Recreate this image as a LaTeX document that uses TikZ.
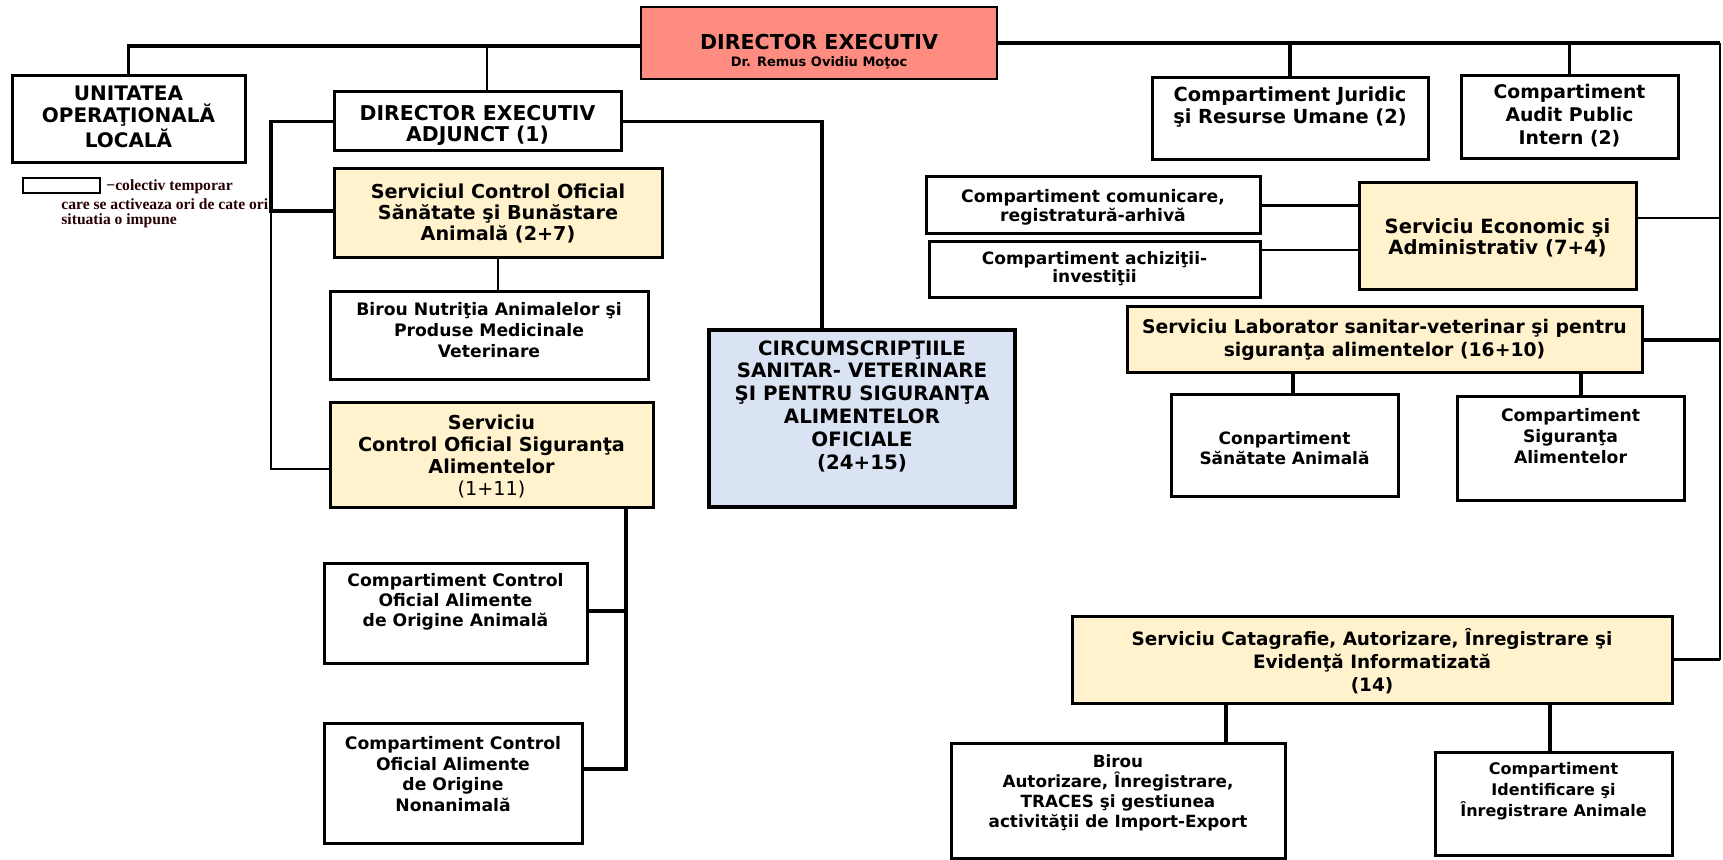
\documentclass[tikz,border=0pt]{standalone}
\usepackage{fontspec}
\setmainfont{DejaVu Sans}
\newfontfamily\legfont{Liberation Serif}
\usetikzlibrary{fit,calc}
\definecolor{salmon}{RGB}{255,140,128}
\definecolor{cream}{RGB}{255,242,204}
\definecolor{paleblue}{RGB}{218,227,243}
\begin{document}
\begin{tikzpicture}[x=0.5pt,y=-0.5pt,
  box/.style={draw=black,line width=1.5pt,inner sep=0pt,outer sep=0pt,fill=white},
  cbox/.style={box,fill=cream},
  legbox/.style={draw=black,line width=0.8pt,inner sep=0pt,outer sep=0pt,fill=white},
  txt/.style={align=center,inner sep=0pt},
  fs/.style 2 args={font=\fontsize{#1}{#2}\selectfont\bfseries},
  legtxt/.style={inner sep=0pt,anchor=west,text=black!85!red,font=\legfont\fontsize{7.8}{9}\selectfont\bfseries},
  thk/.style={line width=1.6pt},
  thn/.style={line width=0.8pt}]
\useasboundingbox (0,0) rectangle (1723,860);

% ---------- connectors (named reference points) ----------
\coordinate (rb) at (1720,0);
\coordinate (ltop) at (0,46);
\coordinate (lbus) at (271,211);
\coordinate (adjtop) at (487,92);
\coordinate (circtop) at (822,330);
\coordinate (sv) at (626,508);
\coordinate (cca-r) at (587,611);
\coordinate (cco-r) at (582,769);
\coordinate (sig-l) at (330,469);
\coordinate (eco-r) at (1636,218);
\coordinate (ach-r) at (1260,250);
\coordinate (csa-top) at (1293,395);
\coordinate (sal-top) at (1581,397);
\coordinate (bir-top) at (1226,743);
\coordinate (idf-top) at (1550,752);

% ---------- boxes ----------
\node[box,fill=salmon,line width=1.2pt,fit={(641,7) (997,79)}] (dir) {};
\node[box,fit={(12,76) (245,163)}] (uol) {};
\node[legbox,fit={(23,178) (100,193)}] (leg) {};
\node[box,fit={(334,92) (621,151)}] (adj) {};
\node[cbox,fit={(334,169) (662,258)}] (sco) {};
\node[box,fit={(330,292) (648,380)}] (bnut) {};
\node[cbox,fit={(330,403) (653,508)}] (sig) {};
\node[box,fill=paleblue,line width=1.8pt,fit={(709,330) (1015,507)}] (circ) {};
\node[box,fit={(324,563) (587,663)}] (cca) {};
\node[box,fit={(324,723) (582,843)}] (cco) {};
\node[box,fit={(1152,78) (1428,160)}] (jur) {};
\node[box,fit={(1461,76) (1678,159)}] (aud) {};
\node[box,fit={(926,177) (1260,234)}] (com) {};
\node[box,fit={(929,242) (1260,298)}] (ach) {};
\node[cbox,fit={(1359,183) (1636,290)}] (eco) {};
\node[cbox,fit={(1127,307) (1642,373)}] (lab) {};
\node[box,fit={(1171,395) (1398,497)}] (csa) {};
\node[box,fit={(1457,397) (1684,501)}] (sal) {};
\node[cbox,fit={(1072,616) (1672,703)}] (cat) {};
\node[box,fit={(951,743) (1285,858)}] (bir) {};
\node[box,fit={(1435,752) (1672,855)}] (idf) {};

% ---------- connectors ----------
\draw[thk] (dir.west |- ltop) -| (uol.north);
\draw[thn] (adjtop) -- (adjtop |- ltop);
\draw[thk] (adj.west) -| (lbus) -- (lbus -| sco.west);
\draw[thn] (lbus) |- (sig-l);
\draw[thk] (adj.east) -| (circtop);
\draw[thn] (sco.south) -- (sco.south |- bnut.north);
\draw[thk] (sv) |- (cca-r);
\draw[thk] (sv) |- (cco-r);
\draw[thk] (dir.east) -- (dir.east -| rb);
\draw[thn] (dir.east -| rb) -- (cat.east -| rb);
\draw[thk] (cat.east) -- (cat.east -| rb);
\draw[thn] (eco-r) -- (eco-r -| rb);
\draw[thk] (lab.east) -- (lab.east -| rb);
\draw[thk] (jur.north) -- (jur.north |- dir.east);
\draw[thk] (aud.north) -- (aud.north |- dir.east);
\draw[thk] (com.east) -- (com.east -| eco.west);
\draw[thn] (ach-r) -- (ach-r -| eco.west);
\draw[thk] (csa-top) -- (csa-top |- lab.south);
\draw[thk] (sal-top) -- (sal-top |- lab.south);
\draw[thk] (bir-top) -- (bir-top |- cat.south);
\draw[thk] (idf-top) -- (idf-top |- cat.south);

% ---------- texts ----------
\node[txt,fs={10.3}{12}] (dir-t1) at (819,42) {DIRECTOR EXECUTIV};
\node[txt,fs={6.5}{8}] (dir-t2) at (819,63) {Dr. Remus Ovidiu Moţoc};
\node[txt,fs={10}{11}] (uol-t) at (128.5,117) {UNITATEA\\OPERAŢIONALĂ\\LOCALĂ};
\node[legtxt] (leg-t1) at (106,187) {−colectiv temporar};
\node[legtxt] (leg-t2) at (61,204) {care se activeaza ori de cate ori};
\node[legtxt] (leg-t3) at (61,221) {situatia o impune};
\node[txt,fs={10.2}{10.5}] (adj-t) at (477.5,125) {DIRECTOR EXECUTIV\\ADJUNCT (1)};
\node[txt,fs={9.6}{10.5}] (sco-t) at (498,213) {Serviciul Control Oficial\\Sănătate şi Bunăstare\\Animală (2+7)};
\node[txt,fs={8.6}{10.5}] (bnut-t) at (489,330) {Birou Nutriţia Animalelor şi\\Produse Medicinale\\Veterinare};
\node[txt,fs={9.6}{11}] (sig-t) at (491.5,456) {Serviciu\\Control Oficial Siguranţa\\Alimentelor\\{\mdseries (1+11)}};
\node[txt,fs={9.9}{11.4}] (circ-t) at (862,406) {CIRCUMSCRIPŢIILE\\SANITAR- VETERINARE\\ŞI PENTRU SIGURANŢA\\ALIMENTELOR\\OFICIALE\\(24+15)};
\node[txt,fs={8.6}{10}] (cca-t) at (455.5,602) {Compartiment Control\\Oficial Alimente\\de Origine Animală};
\node[txt,fs={8.6}{10.25}] (cco-t) at (453,774) {Compartiment Control\\Oficial Alimente\\de Origine\\Nonanimală};
\node[txt,fs={9.7}{11}] (jur-t) at (1290,107) {Compartiment Juridic\\şi Resurse Umane (2)};
\node[txt,fs={9.4}{11.5}] (aud-t) at (1569.5,116) {Compartiment\\Audit Public\\Intern (2)};
\node[txt,fs={8.6}{9.5}] (com-t) at (1093,207.5) {Compartiment comunicare,\\registratură-arhivă};
\node[txt,fs={8.5}{9}] (ach-t) at (1094.5,269) {Compartiment achiziţii-\\investiţii};
\node[txt,fs={9.8}{10.5}] (eco-t) at (1497.5,237.5) {Serviciu Economic şi\\Administrativ (7+4)};
\node[txt,fs={9.4}{11.5}] (lab-t) at (1384.5,340) {Serviciu Laborator sanitar-veterinar şi pentru\\siguranţa alimentelor (16+10)};
\node[txt,fs={8.5}{10}] (csa-t) at (1284.5,448) {Conpartiment\\Sănătate Animală};
\node[txt,fs={8.6}{10.5}] (sal-t) at (1570.5,436) {Compartiment\\Siguranţa\\Alimentelor};
\node[txt,fs={9.2}{11.5}] (cat-t) at (1372,661) {Serviciu Catagrafie, Autorizare, Înregistrare şi\\Evidenţă Informatizată\\(14)};
\node[txt,fs={8.4}{10}] (bir-t) at (1118,793) {Birou\\Autorizare, Înregistrare,\\TRACES şi gestiunea\\activităţii de Import-Export};
\node[txt,fs={8}{10.5}] (idf-t) at (1553.5,791) {Compartiment\\Identificare şi\\Înregistrare Animale};
\end{tikzpicture}
\end{document}
